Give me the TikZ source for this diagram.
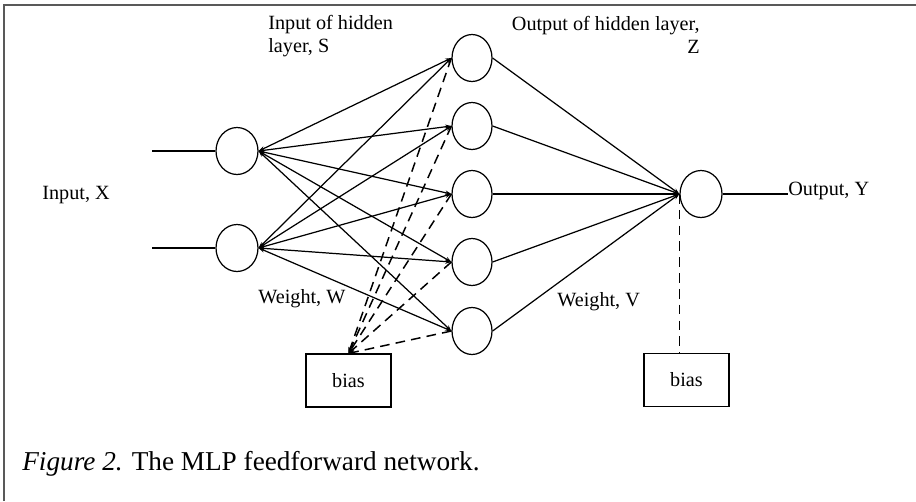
\documentclass[tikz,border=0pt]{standalone}
\usepackage{fontspec}
\setmainfont{Liberation Serif}
\usetikzlibrary{shapes.geometric,arrows.meta}
\begin{document}
\begin{tikzpicture}[x=0.02cm,y=-0.02cm,
  neuron/.style={draw,ellipse,minimum width=0.84cm,minimum height=0.94cm,inner sep=0pt,line width=0.7pt},
  biasbox/.style={draw,rectangle,minimum width=1.7cm,minimum height=1.06cm,line width=0.7pt,font=\fontsize{11.5}{13}\selectfont},
  lbl/.style={font=\fontsize{11.5}{13}\selectfont,inner sep=0pt},
  conn/.style={line width=0.7pt},
  tipend/.style={-{Stealth[length=3.5pt,width=2.5pt]}},
  tipboth/.style={{Stealth[length=3.5pt,width=2.5pt]}-{Stealth[length=3.5pt,width=2.5pt]}},
  biasconn/.style={line width=0.85pt,dash pattern=on 5.5pt off 3.5pt}]
\useasboundingbox (0,0) rectangle (916,501);
\draw[line width=1.2pt,gray!70!black] (4,501) -- (4,5) -- (916,5);

% input layer
\node[neuron] (i1) at (237,151) {};
\node[neuron] (i2) at (237,248) {};
\coordinate (x1) at (152,151);
\coordinate (x2) at (152,248);
\draw[conn] (x1) -- (i1.west);
\draw[conn] (x2) -- (i2.west);

% hidden layer
\foreach \k/\yy in {1/58,2/126,3/194,4/262,5/331}
  \node[neuron,minimum width=0.8cm] (h\k) at (472,\yy) {};

% output
\node[neuron] (o) at (701,194) {};
\coordinate (yend) at (788,194);
\draw[conn] (o.east) -- (yend);

% bias boxes
\node[biasbox] (b1) at (348.5,380.5) {bias};
\node[biasbox] (b2) at (686.5,380) {bias};

% weights W
\foreach \i in {1,2}
  \foreach \k in {1,...,5}
    \draw[conn,tipboth] (i\i.east) -- (h\k.west);

% weights V
\foreach \k in {1,...,5}
  \draw[conn,tipend] (h\k.east) -- (o.west);

% bias connections
\foreach \k in {1,...,5}
  \draw[biasconn,tipend] (h\k.west) -- (b1.north);
\draw[biasconn] (o.west) -- (o.west |- b2.north);

% labels
\node[lbl,anchor=base west] (lx) at (42,199) {Input, X};
\node[lbl,anchor=base west,align=left] (ls) at (268,52) {Input of hidden\\layer, S};
\node[lbl,anchor=base east,align=right] (lz) at (700,53) {Output of hidden layer,\\Z};
\node[lbl,anchor=base west] (lw) at (258,303) {Weight, W};
\node[lbl,anchor=base west] (lv) at (557,306) {Weight, V};
\node[lbl,anchor=base west] (ly) at (788,195) {Output, Y};

% caption
\node[inner sep=0pt,anchor=base west,font=\fontsize{15.5}{18}\selectfont] (cap) at (22,470) {\textit{Figure 2.} The MLP feedforward network.};
\end{tikzpicture}
\end{document}
